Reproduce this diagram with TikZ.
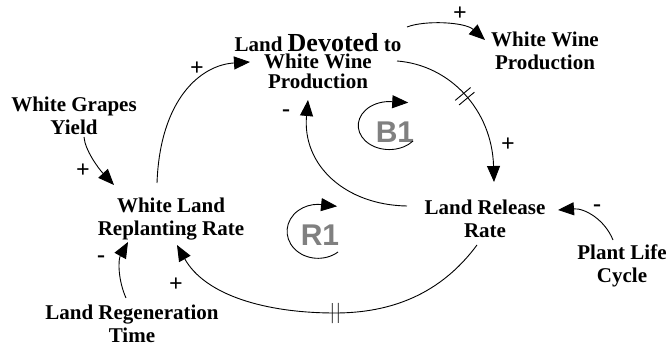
\documentclass[tikz,border=0pt]{standalone}
\usepackage{fontspec}
\setmainfont{Liberation Serif}
\setsansfont{Liberation Sans}
\usetikzlibrary{arrows.meta,decorations.markings}
\begin{document}
\begin{tikzpicture}[x=1pt,y=-1pt,
  lbl/.style={font=\bfseries\fontsize{21}{22.5}\selectfont, align=center, inner sep=0pt, anchor=north},
  sgn/.style={font=\bfseries\fontsize{24}{24}\selectfont, inner sep=0pt},
  link/.style={line width=0.9pt, -{Triangle[length=16pt,width=13pt]}},
  loopname/.style={font=\sffamily\bfseries\fontsize{30}{30}\selectfont, text=gray, inner sep=0pt},
  delayed/.style={postaction={decorate}, decoration={markings, mark=at position #1 with {\draw[line width=0.9pt,-] (-3pt,-10pt)--(-3pt,10pt) (3pt,-10pt)--(3pt,10pt);}}}
]
\useasboundingbox (0,0) rectangle (667,347);

\node[lbl] (yield) at (74,97) {White Grapes\\Yield};
\node[lbl] (rate) at (171,198) {White Land\\Replanting Rate};
\node[lbl, font=\bfseries\fontsize{21}{20}\selectfont] (devoted) at (318,33) {Land {\fontsize{26}{26}\selectfont Devoted} to\\[-3pt]White Wine\\Production};
\node[lbl] (wwp) at (545,32) {White Wine\\Production};
\node[lbl] (release) at (485,200) {Land Release\\Rate};
\node[lbl] (plc) at (622,245) {Plant Life\\Cycle};
\node[lbl] (regen) at (132,305) {Land Regeneration\\Time};

\draw[link] ([shift={(10,40)}]yield.north) .. controls (85,150) and (98,168) .. ([shift={(-57,-13)}]rate.north);
\draw[link] ([shift={(-14,-15)}]rate.north) .. controls (160,100) and (200,65) .. ([shift={(-68,29)}]devoted.north);
\draw[link] ([shift={(89,-6)}]devoted.north) .. controls (425,20) and (465,22) .. ([shift={(-60,8)}]wwp.north);
\draw[link, delayed=0.46] ([shift={(79,28)}]devoted.north) .. controls (450,65) and (492,110) .. ([shift={(9,-18)}]release.north);
\draw[link] ([shift={(-78,6)}]release.north) .. controls (345,205) and (302,165) .. ([shift={(-10,67)}]devoted.north);
\draw[link, delayed=0.475] ([shift={(-8,45)}]release.north) .. controls (440,295) and (390,313) .. (335,313) .. controls (265,313) and (205,295) .. ([shift={(6,47)}]rate.north);
\draw[link] ([shift={(-6,-7)}]regen.north) .. controls (118,280) and (118,260) .. ([shift={(-43,44)}]rate.north);
\draw[link] ([shift={(-9,-5)}]plc.north) .. controls (605,220) and (585,208) .. ([shift={(73,10)}]release.north);

\node[sgn] (s1) at (83,171) {+};
\node[sgn] (s2) at (197,69) {+};
\node[sgn] (s3) at (460,14) {+};
\node[sgn] (s4) at (508,145) {+};
\node[sgn] (s5) at (286,113) {-};
\node[sgn] (s6) at (176,285) {+};
\node[sgn] (s7) at (101,259) {-};
\node[sgn] (s8) at (597,208) {-};

\node[loopname] (b1) at (395,132) {B1};
\draw[link] ([shift={(18,9)}]b1.center) arc[start angle=40, end angle=270, x radius=31, y radius=24] -- ++(19,1);
\node[loopname] (r1) at (320,235) {R1};
\draw[link] ([shift={(18,17)}]r1.center) arc[start angle=50, end angle=270, x radius=31, y radius=27] -- ++(19,2);
\end{tikzpicture}
\end{document}
